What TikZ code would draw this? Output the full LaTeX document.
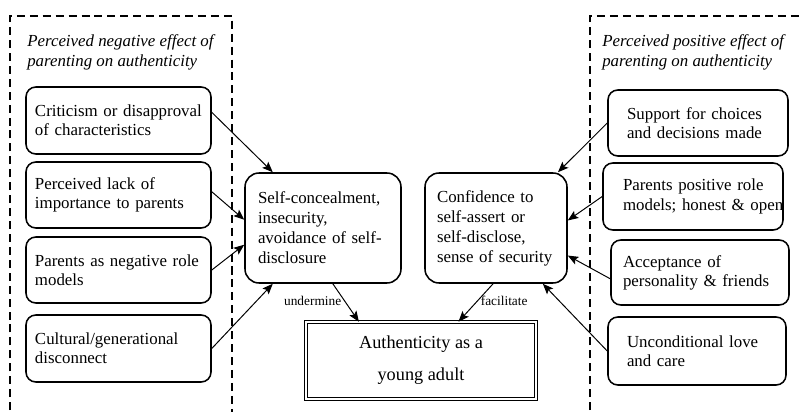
\documentclass[tikz,border=0pt]{standalone}
\usepackage{fontspec}
\setmainfont{Liberation Serif}
\usetikzlibrary{arrows.meta,positioning}

\tikzset{
  groupframe/.style={line width=1.4pt,dash pattern=on 5.7pt off 3.5pt},
  grouptitle/.style={anchor=west,align=left,inner sep=0pt,
    font=\fontsize{12}{14.2}\selectfont\itshape},
  causebox/.style={draw,line width=1.1pt,rounded corners=7pt,align=left,
    inner ysep=2pt,font=\fontsize{12}{13.6}\selectfont},
  midbox/.style={draw,line width=1.1pt,rounded corners=10pt,align=left,
    inner ysep=2pt,minimum height=2.75cm,font=\fontsize{12}{14.2}\selectfont},
  outcomebox/.style={draw,line width=0.45pt,double,double distance=1.3pt,
    align=center,minimum width=5.75cm,minimum height=1.925cm,
    font=\fontsize{13}{22.7}\selectfont},
  link/.style={line width=0.7pt,-{Stealth[length=7.5pt,width=6pt,inset=1.5pt]}},
  linklabel/.style={font=\fontsize{9.5}{11}\selectfont,inner sep=2pt}
}

\begin{document}
\begin{tikzpicture}[x=1cm,y=1cm]

\useasboundingbox (0,0) rectangle (19.975,10.275);

% ===== DASHED GROUP FRAMES =====
\draw[groupframe] (0.25,-0.3) -- (0.25,9.875) -- (5.8,9.875) -- (5.8,-0.3);
\draw[groupframe] (14.75,-0.3) -- (14.75,9.875) -- (20.4,9.875);

\node[grouptitle] (negtitle) at (0.675,8.975)
  {Perceived negative effect of\\parenting on authenticity};
\node[grouptitle] (postitle) at (15.05,8.975)
  {Perceived positive effect of\\parenting on authenticity};

% ===== NEGATIVE SIDE =====
\node[causebox,text width=4.175cm,inner xsep=0.225cm,minimum height=1.675cm]
  (neg1) at (2.9625,7.2625) {Criticism or disapproval\\of characteristics};
\node[causebox,text width=4.175cm,inner xsep=0.225cm,minimum height=1.65cm]
  (neg2) at (2.9625,5.4) {Perceived lack of\\importance to parents};
\node[causebox,text width=4.175cm,inner xsep=0.225cm,minimum height=1.65cm]
  (neg3) at (2.9625,3.525) {Parents as negative role\\models};
\node[causebox,text width=4.175cm,inner xsep=0.225cm,minimum height=1.675cm]
  (neg4) at (2.9625,1.5625) {Cultural/generational\\disconnect};

% ===== MIDDLE =====
\node[midbox,text width=3.25cm,inner xsep=0.325cm] (conceal) at (8.075,4.575)
  {Self-concealment,\\insecurity,\\avoidance of self-\\disclosure};
\node[midbox,text width=2.95cm,inner xsep=0.3cm] (confid) at (12.4,4.575)
  {Confidence to\\self-assert or\\self-disclose,\\sense of security};

\node[outcomebox] (auth) at (10.525,1.2625) {Authenticity as a\\young adult};

% ===== POSITIVE SIDE =====
\node[causebox,text width=3.55cm,inner xsep=0.475cm,minimum height=1.65cm]
  (pos1) at (17.45,7.2) {Support for choices\\and decisions made};
\node[causebox,text width=3.5cm,inner xsep=0.5cm,minimum height=1.675cm]
  (pos2) at (17.325,5.3625)
  {\mbox{Parents positive role}\\\mbox{models; honest \& open}};
\node[causebox,text width=3.85cm,inner xsep=0.3cm,minimum height=1.625cm]
  (pos3) at (17.5,3.4625) {Acceptance of\\personality \& friends};
\node[causebox,text width=3.5cm,inner xsep=0.475cm,minimum height=1.7cm]
  (pos4) at (17.425,1.5) {Unconditional love\\and care};

% ===== CONNECTORS =====
\draw[link] (neg1.5) -- (conceal.132);
\draw[link] (neg2.2) -- (conceal.174);
\draw[link] (neg3.east) -- (conceal.192);
\draw[link] (neg4.east) -- (conceal.228);

\draw[link] (pos1.west) -- (confid.42);
\draw[link] (pos2.west) -- (confid.6);
\draw[link] (pos3.184) -- (confid.339);
\draw[link] (pos4.west) -- (confid.310);

\draw[link] (conceal.280) -- node[linklabel,left,pos=0.45] {undermine} (auth.148);
\draw[link] (confid.267) -- node[linklabel,right,pos=0.45] {facilitate} (auth.46);

\end{tikzpicture}
\end{document}
